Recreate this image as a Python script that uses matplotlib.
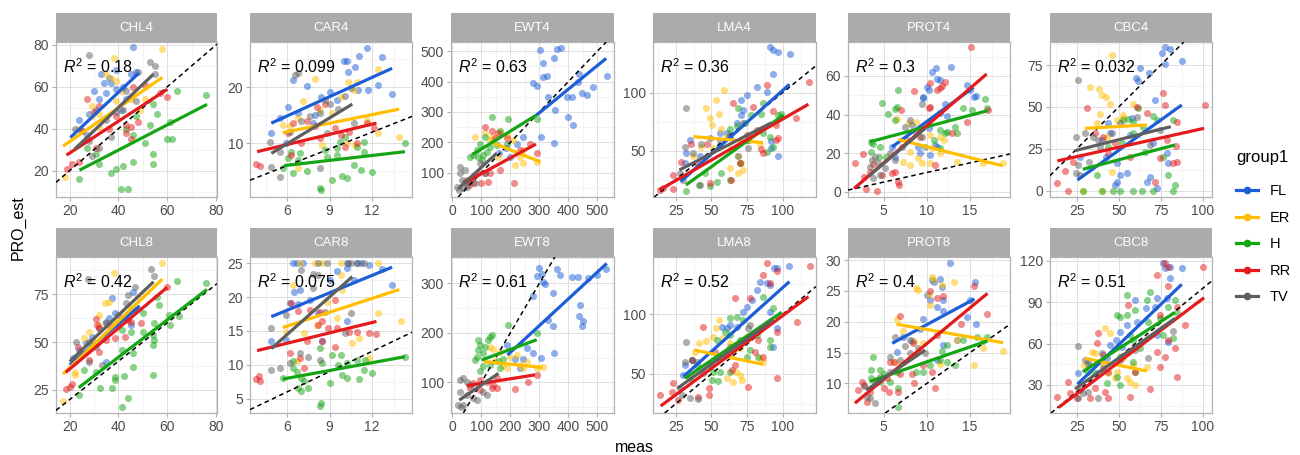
import numpy as np
import matplotlib.pyplot as plt
from matplotlib.lines import Line2D
from matplotlib.ticker import MultipleLocator

plt.rcParams['font.family'] = ['Liberation Sans', 'DejaVu Sans']
plt.rcParams['mathtext.fontset'] = 'custom'
plt.rcParams['mathtext.it'] = 'Liberation Sans:italic'
plt.rcParams['mathtext.rm'] = 'Liberation Sans'

groups = ['FL', 'ER', 'H', 'RR', 'TV']
colors = {'FL': '#1c5ed6', 'ER': '#ffbe00', 'H': '#14a514', 'RR': '#e41a1c', 'TV': '#5f5f5f'}

panel_names = ['CHL4', 'CAR4', 'EWT4', 'LMA4', 'PROT4', 'CBC4',
               'CHL8', 'CAR8', 'EWT8', 'LMA8', 'PROT8', 'CBC8']
r2_labels = ['0.18', '0.099', '0.63', '0.36', '0.3', '0.032',
             '0.42', '0.075', '0.61', '0.52', '0.4', '0.51']

# (meas, PRO_est) points per group
chl4 = {
    'FL': [(46,79),(37,62),(35,57),(39,59),(43,54),(31,49),(41,49),(24,44),(27,37),(45,66),(47,67),(34,62),(32,54),(25,39),(39,68),(30,58),(36,64),(42,60),(28,47),(33,66)],
    'ER': [(18,17),(38,74),(58,78),(29,51),(32,47),(37,64),(39,63),(39,53),(51,54),(29,46),(49,49),(35,66),(27,35),(32,41),(45,54),(24,40),(41,58)],
    'H': [(64,58),(76,56),(54,52),(56,47),(61,43),(47,46),(53,42),(43,40),(46,37),(60,35),(51,33),(54,28),(54,23),(46,24),(39,21),(42,22),(37,19),(41,11),(44,11),(24,16),(32,23),(27,31),(31,28),(62,35)],
    'RR': [(46,60),(51,61),(60,55),(19,21),(21,23),(24,24),(30,48),(39,46),(43,42),(45,41),(48,43),(43,38),(45,35),(27,35),(31,31),(27,54),(32,51),(25,39),(57,57),(36,40)],
    'TV': [(28,75),(53,72),(55,70),(43,58),(42,49),(22,40),(28,34),(32,31),(37,36),(29,27),(47,53),(55,66),(48,67),(35,44),(39,48)],
}
car4 = {
    'FL': [(11.6,27.1),(12.7,25.4),(10.0,24.7),(10.2,24.7),(11.1,25.6),(10.8,23.7),(10.3,22.8),(6.4,21.3),(7.4,20.2),(11.7,19.5),(12.4,20.4),(13.4,18.8),(4.9,11.8),(5.5,14.5),(6.1,16.5),(6.8,15.4),(7.8,13.6),(8.4,18.3),(9.5,17.7),(11.0,19.5),(5.9,10.0),(9.0,19.2),(8.0,15.0)],
    'ER': [(8.0,21.5),(12.4,23.2),(10.3,21.0),(10.9,21.0),(9.8,18.2),(7.1,17.6),(5.7,13.3),(6.2,13.0),(6.8,14.5),(8.3,16.0),(8.5,9.7),(10.2,10.0),(12.4,11.8),(13.9,11.2),(6.8,5.5),(10.8,9.7),(10.7,19.5),(11.6,14.2),(9.2,15.5)],
    'H': [(14.3,10.0),(11.4,10.3),(10.9,9.4),(11.4,8.5),(10.1,11.2),(9.7,10.3),(9.5,9.1),(9.5,7.9),(8.7,8.8),(8.8,7.6),(6.9,8.2),(6.3,8.5),(6.1,7.3),(6.8,7.0),(7.4,5.0),(6.4,4.6),(8.3,2.0),(8.4,1.7),(9.2,3.5),(9.9,4.1),(10.2,3.8),(10.7,6.1),(11.2,5.2),(12.0,4.8),(5.7,5.5)],
    'RR': [(3.8,6.3),(4.1,6.0),(8.1,16.5),(8.7,17.1),(6.4,13.6),(7.4,13.9),(8.0,13.0),(9.4,12.7),(10.4,12.1),(10.1,9.4),(10.9,10.0),(8.3,10.9),(7.0,10.0),(6.3,7.9),(12.1,12.7),(11.6,13.6),(6.1,11.8),(9.8,11.5)],
    'TV': [(6.6,22.2),(6.8,22.5),(8.7,17.7),(10.1,18.5),(10.5,19.8),(4.8,10.3),(5.5,8.5),(4.9,5.8),(5.5,4.0),(8.3,5.5),(7.6,14.8),(8.3,15.4),(9.0,17.1),(6.2,12.1),(7.0,13.9),(10.7,13.6),(8.8,11.8),(9.6,16.2)],
}
ewt4 = {
    'FL': [(302,505),(360,507),(374,511),(351,476),(314,462),(314,416),(325,418),(279,394),(290,385),(331,350),(354,306),(400,284),(411,350),(394,348),(438,424),(434,399),(446,361),(463,355),(486,383),(532,418),(415,256),(351,199),(305,216),(245,218),(222,196),(185,180),(162,164),(199,153)],
    'ER': [(78,218),(136,218),(164,235),(187,224),(210,207),(245,175),(216,125),(245,131),(291,136),(159,153),(130,207),(113,229),(233,153)],
    'H': [(136,284),(193,276),(290,275),(164,238),(113,218),(95,196),(84,175),(72,158),(90,153),(101,142),(118,169),(130,185),(187,196),(153,191),(61,153),(107,158)],
    'RR': [(113,251),(136,238),(147,213),(90,98),(113,98),(124,70),(130,98),(98,65),(72,65),(59,60),(67,82),(49,76),(214,65),(233,175),(268,196),(291,164),(159,229),(187,213),(164,109)],
    'TV': [(26,120),(44,109),(26,98),(15,54),(24,43),(36,49),(44,70),(61,76),(78,65),(49,54),(113,98),(95,131),(32,76)],
}
lma4 = {
    'FL': [(91,139),(93.5,137),(97,135),(105,133),(93.5,116),(82,105),(89,101),(75,98),(71,94),(72,85),(71,81),(68,74),(61,65),(63,62),(56,65),(35,59),(32,48),(31.5,39),(92,58),(92,52),(97,45),(42,45)],
    'ER': [(59,102),(53,94),(46,86.5),(55,82),(49,78),(50.5,72),(56.6,69),(61,62),(64,51),(69,45),(71,39),(72,33),(69,30.5),(63,35),(51,52),(37,45),(43,53),(84,56)],
    'H': [(69,86.5),(63,69),(68,71),(73.6,73.6),(78,81),(86,91),(85,82),(91,62),(93.5,53),(89,49),(97,81),(99,82),(86,65),(76,59),(70,39),(63,25),(57,30.5),(54,23),(49,19.5),(41,20),(32,15.5),(45.6,30.5)],
    'RR': [(118.5,109),(89,107),(109,78),(95,72),(97,61),(95,59),(65,91),(79,88),(93.5,84),(82,68),(85,51),(86,48),(70,39),(64,25),(49,22),(40,39),(36,56),(29,40.5),(23,29),(16,17.5),(14,16),(23,17),(47,56),(75,63.5)],
    'TV': [(32,87),(31.5,53),(37,48),(43,56),(49,61),(63,63.5),(76,59),(76,52),(28,30.5),(30,25),(42,20),(69,45),(72,74),(56,58)],
}
prot4 = {
    'FL': [(10.6,62.2),(11.1,64),(12.8,64.5),(11.2,58.4),(11.5,57.9),(10,54.1),(10.2,52.7),(9.6,49.3),(9.6,48.4),(14.6,55.3),(15,52.7),(15.4,49.3),(15.7,49.6),(12.1,45.5),(11.5,40.6),(12.3,39.2),(10.2,32.8),(11,24.2),(11.2,23.3),(9.2,19.9),(10.4,19),(6,23.3),(6.3,18.1),(9,23.3)],
    'ER': [(8.8,36.3),(7.9,35.8),(6.5,37.5),(10.4,29.4),(11.5,28.5),(12,26.8),(8.1,20.7),(9,17.3),(10.4,14.7),(9.4,14.7),(8.1,13.8),(7.3,15.5),(13.5,15.5),(16.5,14.7),(18.8,14.7),(10.6,22.5),(11.5,19.9)],
    'H': [(4.8,45.8),(5.5,40.3),(6.3,42.7),(6.5,43.7),(6.7,52.7),(6.3,37.2),(3.5,25.9),(3.8,25),(4.6,23.3),(3.5,20.7),(4.5,18.1),(5.3,17.8),(11.5,32),(13.3,33.4),(12.3,31.1),(13.5,30.2),(14.2,43.2),(15.2,42.4),(16.7,47.9),(17,43.2),(12.1,30.2),(11.5,22.5),(10.8,26.8)],
    'RR': [(15.1,74.9),(12.1,56.7),(11.5,53.6),(11.2,52.7),(11.8,55),(10.4,56.5),(8.5,52.4),(10.4,44.1),(10.2,43.2),(7,42.4),(14.6,36.3),(17.1,42.4),(12.9,30.2),(1.7,14.7),(2.6,19.5),(3.8,14.2),(3.4,10.3),(2.7,7.7),(3,1.7),(4.3,0.5),(4.8,8.6),(6,9.5),(6.7,5.2),(6.8,3.4),(6.3,10.3),(9.2,28.5),(11,13.8)],
    'TV': [(8.1,37.2),(8.3,34.6),(7.5,33.4),(9.4,45.5),(8.8,31.1),(7.7,26.8),(7.1,23.3),(4,18.1),(3.7,16.4),(4.4,14.7),(3.4,13),(5.2,12.1),(6.3,16.4),(4.6,8.6),(3.8,6.9),(9.4,28.5),(9.8,23.3),(5.8,19.9)],
}
cbc4 = {
    'FL': [(77.6,85.9),(80.6,84.3),(75.6,81.9),(77.6,75.6),(87.5,77.6),(68.3,70.4),(62.7,73),(60.3,67.1),(61.7,65.5),(71.6,54.2),(57.7,43.3),(43.8,40.3),(44.8,34.3),(42.5,20.4),(48.8,16.5),(50.8,9.5),(48.8,5.6),(47.6,3.6),(54.8,10.5),(66.7,5.6),(72.6,1.6),(68.7,8.5),(79.6,16.5),(70.6,28.4),(27,20.4),(39.9,30.4),(56.7,33.3),(78.6,22.4)],
    'ER': [(45.8,81),(33,61.7),(38,60.5),(39.9,57.1),(42.5,56.2),(44.8,51.8),(58.7,51.8),(52.8,45.2),(38.9,45.8),(37.3,40.7),(45.8,11.5),(29,0),(39.9,0),(43.3,32.3),(52.8,43.3),(48.8,42.3)],
    'H': [(61.7,49.2),(52.8,42.3),(55.8,42.7),(58.7,41.3),(64.7,38.3),(70.6,44.6),(72.6,42.3),(82.5,42.3),(65.7,23.4),(76.6,20.4),(79.6,9.5),(83.5,3.6),(82.5,0),(50.8,0),(58.7,0),(63.7,0),(70.2,0),(46.4,0),(39.9,0),(29,0),(37.3,9.5),(43.8,26.4),(58.7,34.3),(51.8,28.8)],
    'RR': [(101.4,51.2),(84.5,41.3),(76.6,58.1),(77.6,51.2),(66.7,46.2),(61.1,50.2),(31,49.2),(13.1,4.6),(20,0),(18,12.1),(22.6,17.5),(35.9,34.3),(40.9,32.3),(47.8,28.4),(43.8,22.4),(74.6,19.4),(78.6,30.4),(84.1,26.8),(82.5,16.5),(84.5,17.5),(56.7,20.4),(71.6,5.6)],
    'TV': [(26,66.1),(30,34.7),(24.6,31.9),(34.5,31.9),(37.9,30.4),(38.9,26.4),(45.8,34.3),(50.8,40.3),(60.7,44.3),(32.5,17.5),(26,15.5),(24.6,10.5),(27,9.5),(68.7,27.4),(74.6,36.3)],
}
chl8 = {
    'FL': [(37.3,72.7),(38.7,64.9),(36,62.3),(34.7,59.7),(32,57.1),(29.3,52.8),(26.7,49.3),(24,45.8),(21.3,41.5),(46,76.2),(46.7,66.7),(42.7,63.2),(40,58.9),(34.7,39.8),(45.3,58.9)],
    'ER': [(17.1,19.4),(38,86.1),(58,91),(36,70.7),(34.4,70.5),(22,32.8),(22,34.5),(26,52.3),(28,55.4),(32,58.9),(30,50.2),(38.7,60.6),(45.3,67.5),(48,73.6),(32,64.1)],
    'H': [(64,81.8),(76,80.6),(56,73.6),(60.7,64.1),(56.7,69.1),(61,58.9),(64.7,63.7),(54.7,59.7),(54,53.6),(54,48.4),(50,65),(50,55.4),(45.3,55.4),(41.3,56.3),(46,44.1),(41.3,45.8),(38.7,32),(38.7,30.2),(42.4,32.5),(37.3,26.2),(32.3,26.2),(44,21),(41.3,16.3),(54,32.8),(24,22.4),(26,35.4),(30.7,34.5),(46,37.2),(54.7,51)],
    'RR': [(18.7,25.5),(20,26.7),(21.1,28),(30.7,62),(31.3,58.9),(32,57.5),(36,58.9),(42.7,52.8),(45.3,60.6),(44,61.5),(49.3,59.7),(60,78.8),(38.7,51.9),(28,40.6),(23.3,47.6),(32,45),(34.7,51),(24.7,44.1)],
    'TV': [(53.3,87.8),(54.7,84.4),(27.7,82.6),(22.4,50.2),(44,74.5),(46.7,78.8),(43.3,70.1),(40,64.1),(34.7,60.6),(30.7,47.6),(28,39.8),(33.3,38),(28,50.2)],
}
car8 = {
    'FL': [(6.4,25),(6.7,25),(7.1,25),(10.2,25),(10.9,25),(11.2,25),(10.2,24.3),(9.5,23.9),(11.8,24.7),(12.7,24.2),(13.4,21.7),(9,22.5),(10.7,22.5),(6.9,21.1),(6.5,20.8),(6.2,19.1),(6.8,18.9),(7.6,19.6),(4.9,13.5),(5.9,13.7),(8.5,13.5),(10.2,16.4),(8.2,17.6)],
    'ER': [(6.9,25),(8,25),(8.5,25),(9.8,25),(12.4,25),(6.4,21.8),(9.8,23.3),(9.9,21.1),(8.8,19.3),(9.5,16.9),(7.2,14.7),(8.1,15.9),(12.4,17.6),(14,16.4),(11.1,14),(10.6,13.2),(6.7,10.5),(11.8,11),(5.9,14.9)],
    'H': [(14.3,11.2),(11.5,10.7),(10.9,10.7),(11.4,9.3),(9.6,10),(10.2,10.3),(9.2,11.5),(9.8,11.5),(9.9,8.5),(10.2,8),(9,7.3),(8.5,10.3),(6.4,10.5),(6.4,9.5),(6.7,9),(7,8),(7.2,7.6),(6.8,6.6),(7,6.1),(7.5,6.6),(8.3,4),(8.4,4.4),(12,8.8),(11.1,7.9),(5.7,8),(8.3,12.5)],
    'RR': [(3.8,7.9),(4.1,7.6),(4,8.3),(6.3,19.1),(6.8,17.9),(7.6,18.1),(8.3,17.8),(9.4,19.6),(8.2,15.9),(8.9,15.4),(9.5,15.4),(7.4,13.5),(8.5,13.5),(9.4,12.7),(6.2,11.7),(6.9,11),(7.2,9.5),(10.4,14.9),(10.9,14.9),(11.8,14.7),(12.3,14.5),(8.5,16.4)],
    'TV': [(8.2,25),(8.8,25),(10.3,25),(10.5,25),(10.9,25),(11.4,25),(7,24),(7.8,23.4),(8.2,23.3),(7.8,21.3),(5.9,17.4),(4.9,15.4),(8.7,17.8),(10.5,17.6),(4.9,9.3),(5.5,9.5),(6.9,11.7),(7.5,11.2),(8.3,10.7),(6.2,10.3),(10.1,14.7)],
}
ewt8 = {
    'FL': [(300,330),(291,315),(308,318),(314,302),(320,298),(360,329),(371,317),(411,313),(434,313),(469,310),(498,317),(530,329),(279,275),(346,280),(440,256),(438,233),(451,223),(446,214),(348,214),(331,226),(351,159),(305,150),(279,159),(256,169),(245,148),(233,128),(190,175),(216,148)],
    'ER': [(130,172),(141,167),(164,162),(197,152),(222,155),(233,135),(245,128),(291,128),(311,130),(176,135),(147,142),(187,128),(256,140)],
    'H': [(193,216),(291,199),(130,192),(136,196),(124,186),(95,175),(90,165),(107,159),(84,152),(78,145),(107,132),(95,122),(130,135),(159,142),(176,148),(113,172),(90,186),(164,128)],
    'RR': [(95,105),(72,98),(118,101),(141,95),(136,88),(153,88),(95,85),(61,88),(216,87),(153,108),(291,115),(262,100)],
    'TV': [(21,54),(29,51),(38,54),(26,105),(38,108),(49,101),(26,81),(49,74),(72,68),(84,64),(107,81),(118,74),(61,94)],
}
lma8 = {
    'FL': [(93.9,139.1),(95.8,138.5),(104.7,140.8),(84.1,126.8),(88.8,126),(91.1,124.6),(81.8,120.4),(78.3,112),(74.8,106.4),(72.4,102.2),(63.1,91.1),(60.7,88.3),(57.2,89.7),(67.8,89.7),(91.1,102.2),(95.8,88.3),(93.5,72.9),(31.5,57.5),(30.4,49.2),(36.2,61.7)],
    'ER': [(55.6,95.3),(53.3,88.3),(46.3,77.7),(41.6,75.7),(51.4,81.3),(58.4,79.9),(63.1,75.7),(70.3,71.5),(67.3,52),(70.1,49.2),(71.3,45),(65.4,43.6),(60.7,46.4),(84.1,63.1),(86.4,60.3),(38.6,68.7)],
    'H': [(86.4,114.8),(93.5,105),(63.1,96.6),(67.8,98),(72.4,95.3),(59.5,85.5),(63.1,82.7),(53.7,78.5),(70.3,78.5),(81.8,82.7),(91.1,78.5),(91.1,72.9),(77.1,70.1),(63.1,52),(56.1,52),(51.4,52),(50.2,45),(54.9,44.1),(39.7,57.5),(35,46.4),(74.8,64.5),(82.7,64.5)],
    'RR': [(89.3,142.7),(95.8,136),(86.4,133),(119.2,140.8),(91.1,126),(66.6,113.4),(77.1,113.4),(109.8,93.9),(95.8,85.5),(83,78.5),(80.6,68.7),(86.4,64.5),(95.8,46.4),(76,38.8),(64.3,53.4),(44.4,89.7),(36.2,61.7),(22.9,42.2),(22.2,35.2),(14,32.4),(26.9,28.2),(40.9,31),(48.6,32.4),(48.6,38),(66.6,57.5),(52.6,68.7)],
    'TV': [(32.2,77.1),(31.5,60.3),(36.2,61.7),(39.7,60.3),(44.4,50.6),(49,57.5),(28,38.5),(29.2,32.4),(40.9,29.1),(35,29.6),(77.1,91.1),(76,88.3),(63.1,72.9),(54.9,63.1)],
}
prot8 = {
    'FL': [(12.7,29.5),(10.6,26.8),(10.8,26.5),(11.5,26.9),(11.7,25.7),(10,24.3),(10.4,23.5),(11.2,22.4),(11.9,21.7),(11.9,23.5),(15.6,26.4),(15,23.5),(14.6,20.8),(15.7,19.7),(9.6,20.5),(9.2,18.9),(7.3,17.6),(6.5,15.1),(8.3,16.8),(11.9,16.3),(13.5,17),(11.2,13.8)],
    'ER': [(10.6,27.3),(10.8,26.8),(11.7,25.9),(13.1,26.5),(9,25.1),(8.8,25.4),(10.2,24.3),(10.4,22.7),(6.5,20.4),(7.3,18.5),(8.5,16.8),(9.6,16.5),(9.2,15.4),(13.5,17),(16.5,15.7),(18.8,15.2),(15.4,13),(6.3,13.5),(11.5,13.2)],
    'H': [(16.9,17.6),(16.5,16.8),(15.8,17.6),(14.2,17),(12.3,16.2),(11.7,15.2),(12.3,13.5),(13.3,13),(10.4,13),(8.8,11.9),(9.6,11.9),(6.7,9.3),(6.5,11.9),(5,11.6),(4.6,12.2),(3.8,14.3),(3.5,12.2),(3.5,10.8),(4.6,10.3),(5.8,10.3),(6.7,6.2),(11.5,13.8)],
    'RR': [(10.4,25),(11.2,23.8),(11.9,24.1),(15.5,25.8),(16.9,21.2),(14,19.7),(11.2,17.8),(8.4,16.5),(6.9,21),(6.2,13.5),(5.8,13.5),(6.9,11.6),(8.3,11.6),(10.6,11.9),(11,9.2),(8.5,10),(2,8.9),(2.5,10.3),(2.7,9.7),(3.1,7),(3.4,8.6),(4.2,10.5),(5,9.2),(5.6,8.6),(6.7,8.6),(9.6,13),(5.4,10.8)],
    'TV': [(6.3,17.6),(7.5,16),(8.1,17),(8.1,14.9),(9,15.7),(5.8,14.3),(6.9,13.8),(5.8,11.9),(4.6,11.1),(4,10.3),(3.1,7.8),(3.4,7.6),(4,6.8),(2.7,9.5),(9.8,14.9)],
}
cbc8 = {
    'FL': [(76.6,118.1),(80.6,115.7),(77.6,114.5),(87.5,114.5),(80.6,107.2),(78.6,92.7),(72.6,92.7),(71.6,86.7),(66.3,85.5),(59.7,91.5),(60.7,75.8),(54.8,73.4),(50.8,68.6),(48.4,62.6),(44.8,58.9),(51.8,57.7),(79.6,61.4),(72.6,66.2),(26,38.4),(32,44.5),(42.9,49.3)],
    'ER': [(41.9,71),(44.8,67.4),(33.9,54.1),(35.9,52.9),(40.9,44.5),(43.8,38.4),(47.8,34.8),(48.8,39.6),(54.8,34.8),(56.7,32.4),(59.7,30),(52.8,49.3),(66.7,43.3),(58.7,44.5),(29.4,44.5)],
    'H': [(48.8,80.7),(50.8,79.5),(54.8,80.7),(54.8,95.1),(59.7,84.3),(68.7,97.6),(66.7,91.5),(74.6,78.3),(79.6,86.7),(83.5,91.5),(84.5,81.9),(76.6,66.2),(82.5,63.8),(56.7,66.2),(58.7,62.6),(62.7,56.5),(50.8,50.5),(58.7,46.9),(59.7,39.2),(48.8,36),(50.8,30),(43.3,31.2),(35.9,38.4),(32,39.6),(67.7,75.8)],
    'RR': [(77.6,118.1),(79.6,115.7),(72.6,109.6),(79.6,101.9),(100.4,115.7),(84.5,86.7),(89.5,73.4),(55.8,88),(74.6,80.7),(79.6,62.6),(72.6,54.1),(77.6,50.5),(74.6,43.3),(84.5,36),(83.5,56.5),(68.7,26.8),(37.9,67.4),(36.9,60.2),(40.9,51.7),(43.8,39.6),(41.9,25.2),(43.8,20.8),(32.9,20.3),(35.9,27.6),(20,32.4),(20.9,24),(13.1,21.5),(25,20.3),(56.7,21.5),(59.7,39.6)],
    'TV': [(26,58.5),(30,48.1),(32,46.9),(39.9,52.9),(37.9,38.4),(40.9,42.1),(27,26.4),(29,24),(32,25.2),(26,20.3),(37.9,20.3),(67.7,49.3),(59.7,55.3),(50.8,48.1),(82.5,69.1)],
}

# fitted lines per group: (x_start, x_end, y_start, y_end)
chl4_fit = {'FL': (20.3, 48.3, 35.8, 66.5), 'ER': (17.3, 58, 31.7, 64.5), 'H': (24, 76.3, 20.2, 51.6), 'RR': (18.7, 60, 27.4, 58.8), 'TV': (22, 54.4, 30.2, 66.1)}
car4_fit = {'FL': (4.9, 13.4, 13.6, 23.4), 'ER': (5.7, 13.9, 11.9, 16.1), 'H': (5.8, 14.3, 6.0, 8.5), 'RR': (3.9, 12.3, 8.5, 13.6), 'TV': (4.9, 10.6, 8.2, 17.0)}
ewt4_fit = {'FL': (291, 530, 290, 476), 'ER': (130, 302, 202, 136), 'H': (70, 290, 160, 290), 'RR': (38, 288, 65, 194), 'TV': (21, 153, 48, 164)}
lma4_fit = {'FL': (28.5, 104.7, 23.3, 107.2), 'ER': (37.4, 86, 62.1, 56.9), 'H': (32.2, 100.5, 20.4, 80.7), 'RR': (13.6, 118, 16.1, 90), 'TV': (27.6, 92.3, 33.3, 74.1)}
prot4_fit = {'FL': (6, 15.4, 23.3, 54.1), 'ER': (6.7, 18.7, 27.1, 13.5), 'H': (3.4, 17, 25.9, 42), 'RR': (1.6, 16.9, 1.7, 61), 'TV': (3.3, 9.8, 8.1, 32.8)}
cbc4_fit = {'FL': (25.4, 87.5, 6.5, 51.2), 'ER': (30, 66.7, 37.3, 39.3), 'H': (28.6, 83.5, 12.9, 27.4), 'RR': (13.5, 100.8, 17.9, 37.3), 'TV': (24, 81, 24, 38.3)}
chl8_fit = {'FL': (20, 48.7, 38, 68.8), 'ER': (17.3, 58, 33.3, 82.8), 'H': (23.7, 76.3, 26.2, 77.4), 'RR': (18.4, 60, 34.2, 78.5), 'TV': (20, 54.4, 39.8, 81.4)}
car8_fit = {'FL': (4.9, 13.4, 17.1, 24.4), 'ER': (5.7, 13.9, 15.5, 21.1), 'H': (5.7, 14.3, 7.9, 11.2), 'RR': (3.9, 12.3, 12.1, 16.4), 'TV': (4.9, 10.6, 12.4, 23)}
ewt8_fit = {'FL': (190, 532, 155, 340), 'ER': (109, 311, 142, 130), 'H': (101, 291, 145, 186), 'RR': (49, 285, 93, 115), 'TV': (24, 159, 64, 118)}
lma8_fit = {'FL': (30.4, 104.7, 47.8, 127.4), 'ER': (37.9, 86, 70.1, 58.1), 'H': (31.5, 99.3, 46.4, 101.7), 'RR': (14.5, 118, 23.2, 114.8), 'TV': (26.2, 93.5, 38, 95.3)}
prot8_fit = {'FL': (6, 15.5, 16.5, 23.7), 'ER': (6.5, 18.8, 19.6, 16.6), 'H': (3.4, 17, 10.3, 16.9), 'RR': (1.7, 17, 6.8, 24.6), 'TV': (3, 9.8, 8.9, 15.4)}
cbc8_fit = {'FL': (25.4, 87.5, 30.5, 102.9), 'ER': (30, 66.7, 49.3, 40.1), 'H': (28.6, 83.5, 39.6, 82.6), 'RR': (14.1, 100.8, 13.6, 93.2), 'TV': (24, 83.5, 27.1, 78.3)}

points = [chl4, car4, ewt4, lma4, prot4, cbc4, chl8, car8, ewt8, lma8, prot8, cbc8]
fits = [chl4_fit, car4_fit, ewt4_fit, lma4_fit, prot4_fit, cbc4_fit,
        chl8_fit, car8_fit, ewt8_fit, lma8_fit, prot8_fit, cbc8_fit]

# ---- layout (pixels) ----
W, H = 1300, 455
col_px = [(56, 217), (250, 412), (451, 614), (653, 816), (848, 1010), (1050, 1212)]
row_px = [(42, 197), (257, 413)]
strip_h = 29
xlims = [(14.4, 80.4), (3.4, 14.8), (-4.6, 557), (9.1, 123.3), (0.9, 19.6), (9.1, 105.5)] * 2
ylims = [(7.4, 81.4), (0.4, 28.1), (20, 530), (10, 143.7), (-2.7, 77.6), (-3.6, 88.7),
         (13, 94.3), (2.9, 25.9), (38, 353), (17.3, 148), (5.2, 30.5), (9.7, 122.7)]
xsteps = [20, 3, 100, 25, 5, 25] * 2
ysteps = [20, 10, 100, 50, 20, 25, 25, 5, 100, 50, 5, 30]

fig = plt.figure(figsize=(W / 100, H / 100), dpi=100)

for i, name in enumerate(panel_names):
    r, c = divmod(i, 6)
    x0, x1 = col_px[c]
    y0, y1 = row_px[r]
    ax = fig.add_axes([x0 / W, 1 - y1 / H, (x1 - x0) / W, (y1 - y0) / H])
    sax = fig.add_axes([x0 / W, 1 - y0 / H, (x1 - x0) / W, strip_h / H])
    sax.set_facecolor('#ababab')
    sax.set_xticks([])
    sax.set_yticks([])
    for s in sax.spines.values():
        s.set_visible(False)
    sax.text(0.5, 0.47, name, color='white', ha='center', va='center', fontsize=9.5,
             transform=sax.transAxes)

    for g in groups:
        pts = np.array(points[i][g], dtype=float)
        ax.scatter(pts[:, 0], pts[:, 1], s=26, color=colors[g], alpha=0.5, lw=0, zorder=2)
    ax.axline((0, 0), slope=1, color='black', lw=1.1, ls=(0, (3, 2.3)), zorder=3)
    for g in groups:
        fx0, fx1, fy0, fy1 = fits[i][g]
        ax.plot([fx0, fx1], [fy0, fy1], color=colors[g], lw=2.3, zorder=4,
                solid_capstyle='butt')

    ax.text(0.045, 0.84, r'$R^2$ = ' + r2_labels[i], transform=ax.transAxes,
            fontsize=11.5, ha='left', va='center', zorder=5)

    ax.set_xlim(*xlims[i])
    ax.set_ylim(*ylims[i])
    ax.xaxis.set_major_locator(MultipleLocator(xsteps[i]))
    ax.xaxis.set_minor_locator(MultipleLocator(xsteps[i] / 2))
    ax.yaxis.set_major_locator(MultipleLocator(ysteps[i]))
    ax.yaxis.set_minor_locator(MultipleLocator(ysteps[i] / 2))
    ax.grid(which='major', color='#dedede', lw=0.7)
    ax.grid(which='minor', color='#eeeeee', lw=0.45)
    ax.set_axisbelow(True)
    ax.tick_params(which='minor', length=0)
    ax.tick_params(which='major', length=3, width=0.8, color='#b3b3b3',
                   labelsize=10, labelcolor='#4d4d4d', pad=2)
    for s in ax.spines.values():
        s.set_color('#b3b3b3')
        s.set_linewidth(0.9)

fig.text(18 / W, 1 - 228 / H, 'PRO_est', rotation=90, ha='center', va='center', fontsize=11.5)
fig.text(634 / W, 1 - 447 / H, 'meas', ha='center', va='center', fontsize=11.5)

handles = [Line2D([], [], color=colors[g], lw=2.3, marker='o', markersize=4.5) for g in groups]
leg = fig.legend(handles, groups, title='group1', loc='upper left',
                 bbox_to_anchor=(1236 / W, 1 - 150 / H), frameon=False, fontsize=10.5,
                 title_fontsize=12, handlelength=1.5, handletextpad=0.8, labelspacing=0.85,
                 alignment='left', borderpad=0, borderaxespad=0)
leg._legend_box.sep = 14

fig.savefig('out.png', dpi=100)
